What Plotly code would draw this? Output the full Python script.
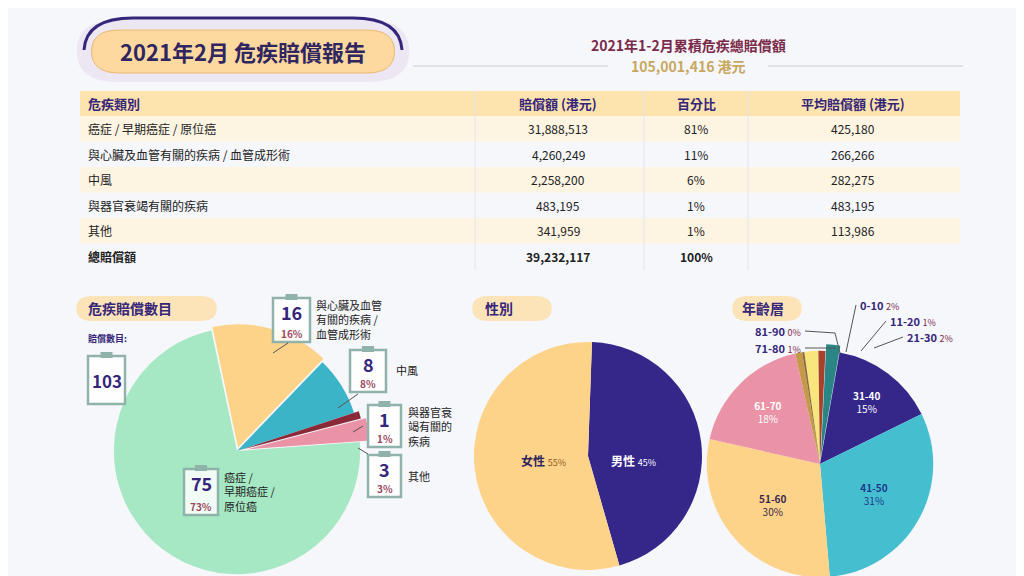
import plotly.graph_objects as go

# === Data ===
total_title = "2021年1-2月累積危疾總賠償額"
total_amount = "105,001,416 港元"

table_header = ["危疾類別", "賠償額 (港元)", "百分比", "平均賠償額 (港元)"]
table_cats = ["癌症 / 早期癌症 / 原位癌", "與心臟及血管有關的疾病 / 血管成形術", "中風",
              "與器官衰竭有關的疾病", "其他", "總賠償額"]
table_amount = ["31,888,513", "4,260,249", "2,258,200", "483,195", "341,959", "39,232,117"]
table_pct = ["81%", "11%", "6%", "1%", "1%", "100%"]
table_avg = ["425,180", "266,266", "282,275", "483,195", "113,986", ""]

claim_labels = ["與心臟及血管有關的疾病 / 血管成形術", "中風", "與器官衰竭有關的疾病", "其他", "癌症 / 早期癌症 / 原位癌"]
claim_counts = [16, 8, 1, 3, 75]
claim_pcts = ["16%", "8%", "1%", "3%", "73%"]
claim_total = 103

gender_labels = ["男性", "女性"]
gender_values = [45, 55]

age_labels = ["0-10", "11-20", "21-30", "31-40", "41-50", "51-60", "61-70", "71-80", "81-90"]
age_values = [2, 1, 2, 15, 31, 30, 18, 1, 0.3]
age_pcts = ["2%", "1%", "2%", "15%", "31%", "30%", "18%", "1%", "0%"]

W, H = 1024, 576
FONT = "Noto Sans CJK TC"
PURPLE = "#35267a"
MAROON = "#7a2b4a"

def px(x):
    return x / W

def py(y):
    return 1 - y / H

fig = go.Figure()
shapes = []
ann = []

def text(x, y, s, size=12, color="#222", bold=False, xanchor="center", yanchor="middle"):
    if bold:
        s = "<b>" + s + "</b>"
    ann.append(dict(x=px(x), y=py(y), xref="paper", yref="paper", text=s, showarrow=False,
                    xanchor=xanchor, yanchor=yanchor, align=xanchor if xanchor != "center" else "center",
                    font=dict(family=FONT, size=size, color=color)))

def rect(x0, y0, x1, y1, fill, line=None, lw=0, layer="below"):
    shapes.append(dict(type="rect", xref="paper", yref="paper", x0=px(x0), x1=px(x1),
                       y0=py(y1), y1=py(y0), fillcolor=fill,
                       line=dict(color=line or fill, width=lw), layer=layer))

def line(x0, y0, x1, y1, color="#555", w=1):
    shapes.append(dict(type="line", xref="paper", yref="paper", x0=px(x0), y0=py(y0),
                       x1=px(x1), y1=py(y1), line=dict(color=color, width=w), layer="above"))

def pill(x0, y0, x1, y1, fill, line_c=None, lw=0):
    r = (y1 - y0) / 2
    path = (f"M {px(x0 + r)},{py(y0)} L {px(x1 - r)},{py(y0)} "
            f"Q {px(x1 + r * 0.3)},{py(y0)} {px(x1 + r * 0.3)},{py((y0 + y1) / 2)} "
            f"Q {px(x1 + r * 0.3)},{py(y1)} {px(x1 - r)},{py(y1)} "
            f"L {px(x0 + r)},{py(y1)} "
            f"Q {px(x0 - r * 0.3)},{py(y1)} {px(x0 - r * 0.3)},{py((y0 + y1) / 2)} "
            f"Q {px(x0 - r * 0.3)},{py(y0)} {px(x0 + r)},{py(y0)} Z")
    shapes.append(dict(type="path", xref="paper", yref="paper", path=path, fillcolor=fill,
                       line=dict(color=line_c or fill, width=lw), layer="below"))

# === Title ===
pill(78, 12, 392, 74, "#ede7f3")
shapes.append(dict(type="path", xref="paper", yref="paper",
                   path=(f"M {px(76)},{py(42)} Q {px(78)},{py(10)} {px(125)},{py(10)} "
                         f"L {px(345)},{py(10)} Q {px(392)},{py(10)} {px(394)},{py(42)}"),
                   line=dict(color="#35267a", width=3), layer="below"))
pill(90, 22, 380, 65, "#fdd9a0", "#e9b870", 1)
text(235, 43, "2021年2月 危疾賠償報告", 22, "#2f2660", True)
text(680, 37, total_title, 14, MAROON, True)
text(680, 58, total_amount, 14, "#c8a860", True)
line(405, 58, 600, 58, "#dfe3ea", 2)
line(760, 58, 955, 58, "#dfe3ea", 2)

# === Table ===
tx0, tx1 = 72, 952
rect(tx0, 83, tx1, 108, "#fde3ae")
row_top = 108
row_h = 25.5
for i, cat in enumerate(table_cats):
    y0 = row_top + i * row_h
    if i % 2 == 0 and i < 5:
        rect(tx0, y0, tx1, y0 + row_h, "#fdf4e2")
    yc = y0 + row_h / 2
    last = i == len(table_cats) - 1
    text(78, yc, cat, 12, "#222", last, "left")
    text(550, yc, table_amount[i], 12, "#222", last)
    text(688, yc, table_pct[i], 12, "#222", last)
    text(845, yc, table_avg[i], 12, "#222", last)
for xd in (467, 636, 740):
    line(xd, 83, xd, 262, "#e4e4ea", 1)
text(78, 96, table_header[0], 13, PURPLE, True, "left")
text(550, 96, table_header[1], 13, PURPLE, True)
text(688, 96, table_header[2], 13, PURPLE, True)
text(845, 96, table_header[3], 13, PURPLE, True)

# === Section headers ===
pill(72, 288, 205, 313, "#fce3b8")
text(78, 300, "危疾賠償數目", 14, PURPLE, True, "left")
pill(468, 288, 540, 313, "#fce3b8")
text(475, 300, "性別", 14, PURPLE, True, "left")
pill(728, 288, 790, 313, "#fce3b8")
text(732, 300, "年齡層", 14, PURPLE, True, "left")

# === Pie 1: claim counts ===
fig.add_trace(go.Pie(
    labels=claim_labels, values=claim_counts, sort=False, direction="clockwise", rotation=-12,
    marker=dict(colors=["#fdd38a", "#3bb4c8", "#8a2a38", "#ea93a6", "#a6e8c3"]),
    pull=[0.03, 0.0, 0.04, 0.08, 0], textinfo="none", hoverinfo="label+value",
    domain=dict(x=[px(86), px(372)], y=[0, py(310)]), showlegend=False))

def clip(x0, y0, x1, y1, num, pct=None, nsize=18):
    rect(x0, y0, x1, y1, "rgba(255,255,255,0.85)", "#8fb3aa", 2.5, "above")
    rect((x0 + x1) / 2 - 6, y0 - 4, (x0 + x1) / 2 + 6, y0 + 2, "#8fb3aa", layer="above")
    if pct is None:
        text((x0 + x1) / 2, (y0 + y1) / 2, str(num), nsize, PURPLE, True)
    else:
        text((x0 + x1) / 2, y0 + 14, str(num), nsize, PURPLE, True)
        text((x0 + x1) / 2, y1 - 9, pct, 10, "#9a4860", True)

text(78, 330, "賠償數目:", 9, PURPLE, True, "left")
clip(80, 348, 117, 396, claim_total, None, 17)
clip(265, 290, 302, 334, claim_counts[0], claim_pcts[0])
text(306, 311, "與心臟及血管<br>有關的疾病 /<br>血管成形術", 11, "#222", False, "left")
clip(342, 342, 378, 384, claim_counts[1], claim_pcts[1])
text(386, 362, "中風", 11, "#222", False, "left")
clip(360, 397, 393, 439, claim_counts[2], claim_pcts[2])
text(398, 418, "與器官衰<br>竭有關的<br>疾病", 11, "#222", False, "left")
clip(360, 447, 393, 489, claim_counts[3], claim_pcts[3])
text(398, 468, "其他", 11, "#222", False, "left")
clip(176, 461, 210, 507, claim_counts[4], claim_pcts[4])
text(214, 483, "癌症 /<br>早期癌症 /<br>原位癌", 11, "#222", False, "left")
line(280, 335, 265, 345)
line(350, 386, 330, 400)
line(355, 418, 345, 424)
line(360, 446, 350, 440)

# === Pie 2: gender ===
fig.add_trace(go.Pie(
    labels=gender_labels, values=gender_values, sort=False, direction="clockwise", rotation=2,
    marker=dict(colors=["#35268a", "#fdd38a"]), textinfo="none", hoverinfo="label+percent",
    domain=dict(x=[px(466), px(694)], y=[py(562), py(334)]), showlegend=False))
text(535, 452, "<b>女性</b> <span style='font-size:9px;color:#8a5a20'>55%</span>", 12, "#2f2660")
text(625, 452, "<b>男性</b> <span style='font-size:9px'>45%</span>", 12, "#ffffff")

# === Pie 3: age ===
age_inside = [f"<b>{l}</b><br>{p}" if v >= 10 else "" for l, p, v in zip(age_labels, age_pcts, age_values)]
fig.add_trace(go.Pie(
    labels=age_labels, values=age_values, sort=False, direction="clockwise", rotation=-8,
    marker=dict(colors=["#f8e67c", "#a8402e", "#2a8585", "#35268a", "#45bfd0", "#fdd38a",
                        "#ea93a6", "#c49a48", "#8a6a3a"]),
    pull=[0, 0, 0.06, 0, 0, 0, 0, 0, 0], text=age_inside, textinfo="text",
    textposition="inside", insidetextorientation="horizontal",
    insidetextfont=dict(family=FONT, size=10, color=["#333", "#fff", "#fff", "#fff", "#1d3a8a",
                                                     "#3a2a50", "#fff", "#fff", "#fff"]),
    hoverinfo="label+percent",
    domain=dict(x=[px(692), px(932)], y=[0, py(336)]), showlegend=False))

def age_callout(x, y, i, anchor):
    text(x, y, f"<b>{age_labels[i]}</b> <span style='font-size:9px;color:{MAROON}'>{age_pcts[i]}</span>",
         11, PURPLE, False, anchor)

age_callout(850, 297, 0, "left")
age_callout(880, 313, 1, "left")
age_callout(897, 329, 2, "left")
age_callout(795, 323, 8, "right")
age_callout(795, 340, 7, "right")
line(848, 297, 838, 344)
line(878, 313, 853, 343)
line(895, 329, 866, 340)
line(797, 323, 827, 325)
line(827, 325, 832, 345)
line(797, 340, 828, 340)

fig.update_layout(width=W, height=H, margin=dict(l=0, r=0, t=0, b=0),
                  paper_bgcolor="#f6f7fb", plot_bgcolor="#f6f7fb",
                  shapes=shapes, annotations=ann, font=dict(family=FONT))
fig.write_html("out.html")
